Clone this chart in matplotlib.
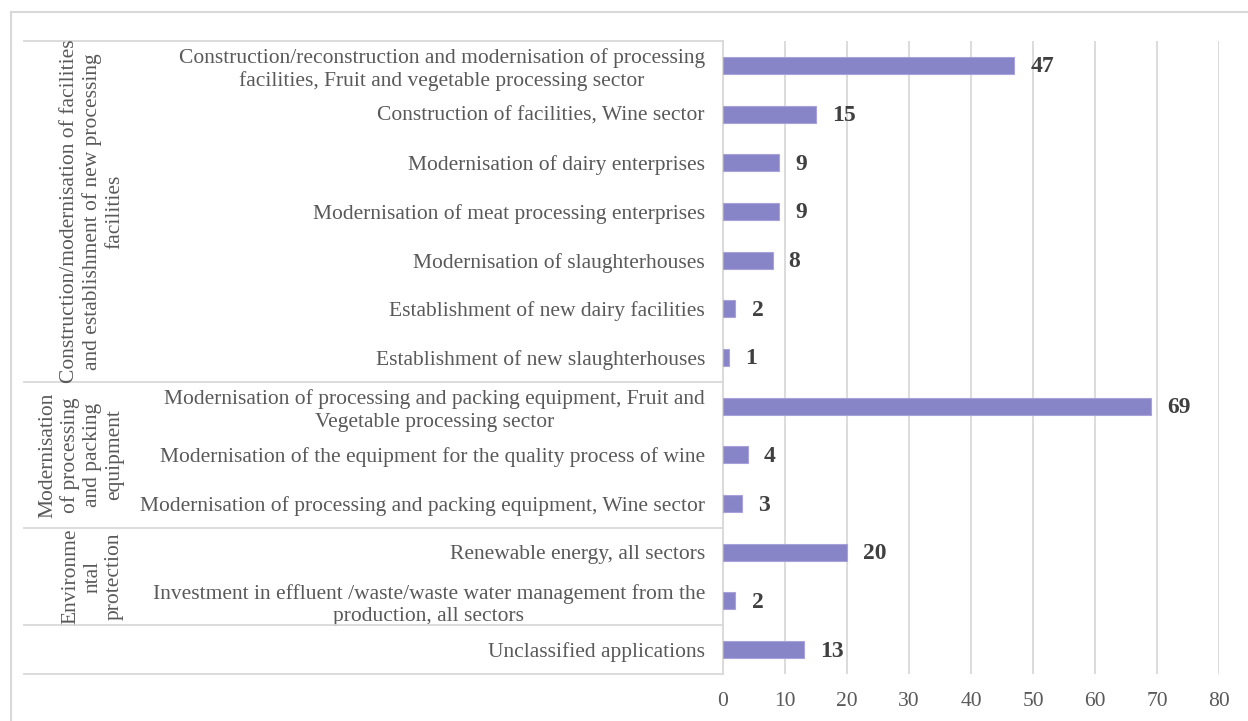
import matplotlib
matplotlib.use('Agg')
import matplotlib.pyplot as plt
from matplotlib.lines import Line2D
from matplotlib.transforms import blended_transform_factory

# data
categories = [
    'Construction/reconstruction and modernisation of processing\nfacilities, Fruit and vegetable processing sector',
    'Construction of facilities, Wine sector',
    'Modernisation of dairy enterprises',
    'Modernisation of meat processing enterprises',
    'Modernisation of slaughterhouses',
    'Establishment of new dairy facilities',
    'Establishment of new slaughterhouses',
    'Modernisation of processing and packing equipment, Fruit and\nVegetable processing sector',
    'Modernisation of the equipment for the quality process of wine',
    'Modernisation of processing and packing equipment, Wine sector',
    'Renewable energy, all sectors',
    'Investment in effluent /waste/waste water management from the\nproduction, all sectors',
    'Unclassified applications',
]
values = [47, 15, 9, 9, 8, 2, 1, 69, 4, 3, 20, 2, 13]

groups = [
    'Construction/modernisation of facilities\nand establishment of new processing\nfacilities',
    'Modernisation\nof processing\nand packing\nequipment',
    'Environme\nntal\nprotection',
    '',
]
group_sizes = [7, 3, 2, 1]

x_ticks = [0, 10, 20, 30, 40, 50, 60, 70, 80]

plt.rcParams['font.family'] = ['Liberation Serif', 'DejaVu Serif']

W, H = 1248, 721
fig = plt.figure(figsize=(W / 100, H / 100), dpi=100)
ax = fig.add_axes([723 / W, 1 - 674 / H, (1219 - 723) / W, (674 - 41) / H])

grid_col = '#D9D9D9'
text_col = '#595959'

y = list(range(len(categories)))
ax.barh(y, values, height=0.35, color='#8884C8', edgecolor='#A7A3DA', linewidth=0.8, zorder=3)

for yi, v in zip(y, values):
    ax.text(v + 2.6, yi + 0.03, str(v), va='center', ha='left', fontsize=17,
            fontweight='bold', color='#404040', zorder=4)

ax.set_xlim(0, 80)
ax.set_ylim(len(categories) - 0.5, -0.5)
ax.set_xticks(x_ticks)
ax.set_yticks(y)
ax.set_yticklabels(categories, fontsize=15.5, color=text_col, multialignment='center',
                   linespacing=1.25)
ax.tick_params(axis='y', length=0, pad=13)
ax.tick_params(axis='x', length=0, pad=13, labelsize=15.5, labelcolor=text_col)

ax.grid(axis='x', color=grid_col, linewidth=1.3, zorder=0)
for s in ['top', 'right', 'bottom']:
    ax.spines[s].set_visible(False)
ax.spines['left'].set_color(grid_col)
ax.spines['left'].set_linewidth(1.3)

# group separators and labels
tr = blended_transform_factory(fig.transFigure, ax.transData)
bounds = [-0.5]
for n in group_sizes:
    bounds.append(bounds[-1] + n)
for b in bounds:
    fig.add_artist(Line2D([24 / W, 723 / W], [b, b], transform=tr,
                          color=grid_col, linewidth=1.3))
for i, g in enumerate(groups):
    if not g:
        continue
    mid = (bounds[i] + bounds[i + 1]) / 2
    fig.text(124 / W, mid, g, transform=tr, rotation=90, ha='right', va='center',
             multialignment='center', fontsize=15.5, color=text_col, linespacing=1.2)

# outer border
fig.add_artist(Line2D([11 / W, 11 / W], [0, 1 - 12 / H], color=grid_col, linewidth=1.5))
fig.add_artist(Line2D([11 / W, 1], [1 - 12 / H, 1 - 12 / H], color=grid_col, linewidth=1.5))

fig.savefig('out.png', dpi=100)
